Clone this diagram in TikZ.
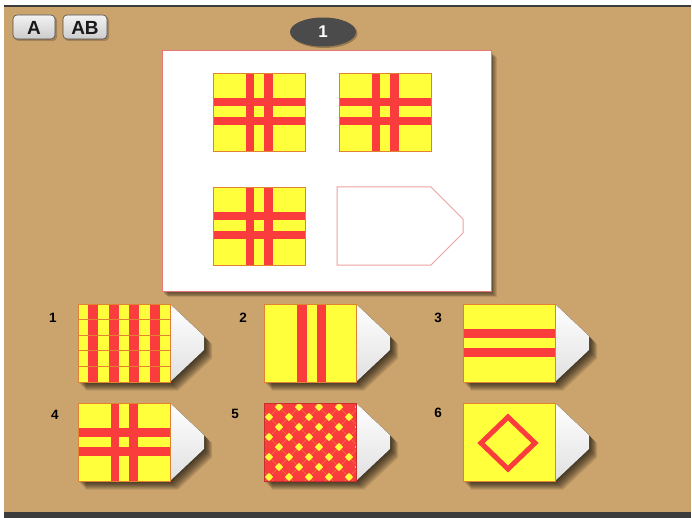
\documentclass[tikz,border=0pt]{standalone}
\usepackage{fontspec}
\setmainfont{Liberation Sans}
\definecolor{bgtan}{RGB}{203,163,108}
\definecolor{darkline}{RGB}{60,60,60}
\definecolor{flagyellow}{RGB}{255,255,60}
\definecolor{flagred}{RGB}{250,60,60}
\definecolor{flagborder}{RGB}{225,130,50}
\definecolor{pinkline}{RGB}{230,120,120}
\definecolor{badgegray}{RGB}{75,75,75}
\tikzset{
  flagedge/.style={draw=flagborder, line width=0.8pt},
  optlabel/.style={font=\bfseries\fontsize{13.5}{13.5}\selectfont, text=black, inner sep=0pt},
  btnbox/.style={rounded corners=4pt, top color=gray!10, bottom color=gray!40, draw=gray!60!black, line width=0.6pt},
  btntext/.style={font=\bfseries\fontsize{19}{19}\selectfont, text=black!90, inner sep=0pt},
}
\newcommand\optshape[2]{%
  \foreach \k in {1,...,9}{
    \fill[black, opacity=0.1, xshift=\k*0.9pt, yshift=-\k*0.95pt] (#1,#2) -- (#1+92,#2) -- (#1+126,#2+32) -- (#1+126,#2+46) -- (#1+92,#2+78) -- (#1,#2+78) -- cycle;
  }
  \fill[top color=white, bottom color=white!88!black] (#1+92,#2) -- (#1+126,#2+32) -- (#1+126,#2+46) -- (#1+92,#2+78) -- cycle;
}
\newcommand\crossflag[2]{%
  \fill[flagyellow] (#1,#2) rectangle ++(92,78);
  \fill[flagred] (#1+32.5,#2) rectangle (#1+41,#2+78);
  \fill[flagred] (#1+51,#2) rectangle (#1+59.5,#2+78);
  \fill[flagred] (#1,#2+25) rectangle (#1+92,#2+33.5);
  \fill[flagred] (#1,#2+44) rectangle (#1+92,#2+52.5);
  \draw[flagedge] (#1,#2) rectangle ++(92,78);
}
\begin{document}
\begin{tikzpicture}[x=1pt,y=-1pt]
\useasboundingbox (0,0) rectangle (692,518);
% background
\fill[white] (0,0) rectangle (692,518);
\fill[bgtan] (4,7) rectangle (691,512);
\fill[darkline] (4,5) rectangle (691,7.5);
\fill[darkline] (4,512) rectangle (691,518);

% buttons
\fill[black, opacity=0.2, rounded corners=4pt] (14.5,16.5) rectangle (57,41);
\fill[black, opacity=0.2, rounded corners=4pt] (64.5,16.5) rectangle (109,41);
\draw[btnbox] (13,15) rectangle (55,39);
\draw[btnbox] (63,15) rectangle (107,39);
\node[btntext] (btnA) at (34,27.5) {A};
\node[btntext] (btnAB) at (85,27.5) {AB};

% badge
\fill[black, opacity=0.25] (324.5,33.5) ellipse [x radius=33pt, y radius=14.5pt];
\fill[badgegray] (323,32) ellipse [x radius=33pt, y radius=14.5pt];
\node[font=\bfseries\fontsize{17}{17}\selectfont, text=white, inner sep=0pt] (badge) at (323,32) {1};

% main panel
\foreach \k in {1,...,7}{
  \fill[black, opacity=0.1, xshift=\k*0.8pt, yshift=-\k*0.9pt] (162,51) rectangle (491,291);
}
\fill[white] (162,51) rectangle (491,291);
\draw[pinkline, line width=1pt] (162,51) rectangle (491,291);

% matrix cells
\crossflag{213}{73}
\crossflag{339}{73}
\crossflag{213}{187}
\draw[pinkline!70, line width=1pt] (337,187) -- (431,187) -- (463,219) -- (463,233) -- (431,265) -- (337,265) -- cycle;

% option labels
\node[optlabel] (l1) at (53,318) {1};
\node[optlabel] (l2) at (243,318) {2};
\node[optlabel] (l3) at (438,318) {3};
\node[optlabel] (l4) at (55,415) {4};
\node[optlabel] (l5) at (235,414) {5};
\node[optlabel] (l6) at (438,413) {6};

% option shapes (shadow + tab)
\optshape{78}{304}
\optshape{264}{304}
\optshape{463}{304}
\optshape{78}{403}
\optshape{264}{403}
\optshape{463}{403}

% option 1: stripes + grid
\fill[flagyellow] (78,304) rectangle ++(92,78);
\foreach \c in {1,3,5,7}{
  \fill[flagred] (78+\c*92/9,304) rectangle (78+\c*92/9+92/9,382);
}
\foreach \r in {1,...,4}{
  \draw[flagborder, line width=0.7pt] (78,304+\r*78/5) -- (170,304+\r*78/5);
}
\draw[flagedge] (78,304) rectangle ++(92,78);

% option 2: vertical bars
\fill[flagyellow] (264,304) rectangle ++(92,78);
\fill[flagred] (297,304) rectangle (306.5,382);
\fill[flagred] (316.5,304) rectangle (326,382);
\draw[flagedge] (264,304) rectangle ++(92,78);

% option 3: horizontal bars
\fill[flagyellow] (463,304) rectangle ++(92,78);
\fill[flagred] (463,329) rectangle (555,338);
\fill[flagred] (463,348) rectangle (555,357);
\draw[flagedge] (463,304) rectangle ++(92,78);

% option 4: cross
\crossflag{78}{403}

% option 5: lattice of diamonds
\begin{scope}
  \clip (264,403) rectangle ++(92,78);
  \fill[flagred] (264,403) rectangle ++(92,78);
  \foreach \m in {-15,-13,...,15}{
    \draw[flagyellow, opacity=0.3, line width=0.6pt] (200,338-10*\m) -- (420,558-10*\m);
  }
  \foreach \n in {-15,-13,...,15}{
    \draw[flagyellow, opacity=0.3, line width=0.6pt] (200,476+10*\n) -- (420,256+10*\n);
  }
  \foreach \i in {-1,...,9}{
    \foreach \j in {-1,...,8}{
      \pgfmathtruncatemacro\parity{mod(\i+\j+2,2)}
      \ifnum\parity=1
        \fill[flagyellow] (269+10*\i,407+10*\j) +(0,-4.2) -- +(4.2,0) -- +(0,4.2) -- +(-4.2,0) -- cycle;
      \fi
    }
  }
\end{scope}
\draw[draw=flagred!80!black, line width=0.6pt] (264,403) rectangle ++(92,78);

% option 6: diamond outline
\fill[flagyellow] (463,403) rectangle ++(92,78);
\draw[flagred, line width=5pt, line join=miter] (508,417) -- (535,443) -- (508,469) -- (481,443) -- cycle;
\draw[flagedge] (463,403) rectangle ++(92,78);
\end{tikzpicture}
\end{document}
